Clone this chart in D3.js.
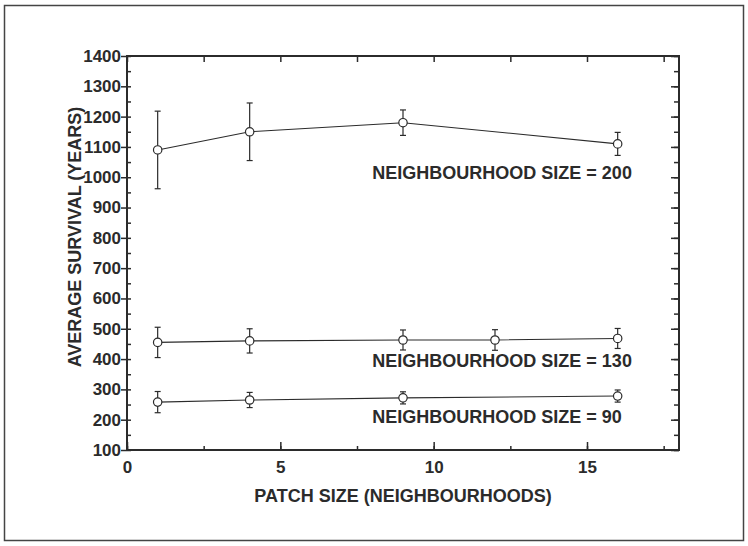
<!DOCTYPE html>
<html>
<head>
<meta charset="utf-8">
<script src="https://cdn.jsdelivr.net/npm/d3@7"></script>
<style>
  body { margin: 0; background: #fff; }
  svg text { font-family: "Liberation Sans", Arial, sans-serif; font-weight: bold; fill: #2b2b2b; }
</style>
</head>
<body>
<div class="chart"></div>
<script>
// data
const patch200 = [1, 4, 9, 16];
const survival200 = [1090, 1150, 1180, 1110];
const err200 = [128, 95, 42, 38];

const patch130 = [1, 4, 9, 12, 16];
const survival130 = [455, 460, 463, 463, 468];
const err130 = [50, 40, 33, 34, 33];

const patch90 = [1, 4, 9, 16];
const survival90 = [258, 265, 272, 278];
const err90 = [35, 25, 20, 20];

const seriesLabels = ['NEIGHBOURHOOD SIZE = 200', 'NEIGHBOURHOOD SIZE = 130', 'NEIGHBOURHOOD SIZE = 90'];
const xTicks = [0, 5, 10, 15];
const yTicks = d3.range(100, 1401, 100);

const ink = '#2b2b2b';
const W = 748, H = 546;
const plot = {left: 127, right: 679, top: 56, bottom: 450};

const svg = d3.select('.chart')
    .append('svg')
    .attr('width', W)
    .attr('height', H);

// outer frame of the scanned page
svg.append('rect')
    .attr('x', 4.5).attr('y', 5.5)
    .attr('width', 739).attr('height', 535)
    .attr('fill', 'none')
    .attr('stroke', '#444')
    .attr('stroke-width', 1.5);

const x = d3.scaleLinear().domain([0, 18]).range([plot.left, plot.right]);
const y = d3.scaleLinear().domain([100, 1400]).range([plot.bottom, plot.top]);

const xMinor = d3.range(0, 18.1, 2.5);
const yMinor = d3.range(100, 1401, 50);

function styleAxis(g) {
    g.select('.domain').remove();
    g.selectAll('line').attr('stroke', ink).attr('stroke-width', 1.5);
    g.selectAll('text').attr('font-size', 17).attr('fill', ink);
}

// left axis: labelled ticks outward, minor ticks inward
svg.append('g')
    .attr('transform', `translate(${plot.left},0)`)
    .call(d3.axisLeft(y).tickValues(yTicks).tickSize(6).tickPadding(0).tickFormat(d3.format('d')))
    .call(styleAxis);
svg.append('g')
    .attr('transform', `translate(${plot.left},0)`)
    .call(d3.axisLeft(y).tickValues(yMinor).tickSize(-4).tickFormat(''))
    .call(styleAxis);

// right axis
svg.append('g')
    .attr('transform', `translate(${plot.right},0)`)
    .call(d3.axisRight(y).tickValues(yTicks).tickSize(-8).tickFormat(''))
    .call(styleAxis);
svg.append('g')
    .attr('transform', `translate(${plot.right},0)`)
    .call(d3.axisRight(y).tickValues(yMinor).tickSize(-5).tickFormat(''))
    .call(styleAxis);

// bottom axis
svg.append('g')
    .attr('transform', `translate(0,${plot.bottom})`)
    .call(d3.axisBottom(x).tickValues(xTicks).tickSize(-8).tickPadding(11).tickFormat(d3.format('d')))
    .call(styleAxis);
svg.append('g')
    .attr('transform', `translate(0,${plot.bottom})`)
    .call(d3.axisBottom(x).tickValues(xMinor).tickSize(-4).tickFormat(''))
    .call(styleAxis);

// top axis
svg.append('g')
    .attr('transform', `translate(0,${plot.top})`)
    .call(d3.axisTop(x).tickValues(xMinor).tickSize(-6).tickFormat(''))
    .call(styleAxis);

// plot frame
svg.append('rect')
    .attr('x', plot.left).attr('y', plot.top)
    .attr('width', plot.right - plot.left)
    .attr('height', plot.bottom - plot.top)
    .attr('fill', 'none')
    .attr('stroke', ink)
    .attr('stroke-width', 2);

const series = [
    {xs: patch200, ys: survival200, es: err200, label: seriesLabels[0], lx: 8, ly: 995},
    {xs: patch130, ys: survival130, es: err130, label: seriesLabels[1], lx: 8, ly: 374},
    {xs: patch90, ys: survival90, es: err90, label: seriesLabels[2], lx: 8, ly: 189}
];

const line = d3.line()
    .x(d => x(d.x))
    .y(d => y(d.y));

series.forEach(s => {
    const pts = s.xs.map((v, i) => ({x: v, y: s.ys[i], e: s.es[i]}));
    const g = svg.append('g');

    g.append('path')
        .datum(pts)
        .attr('d', line)
        .attr('fill', 'none')
        .attr('stroke', ink)
        .attr('stroke-width', 1.1);

    const bars = g.selectAll('.err')
        .data(pts)
        .enter()
        .append('g')
        .attr('class', 'err');

    bars.append('line')
        .attr('x1', d => x(d.x)).attr('x2', d => x(d.x))
        .attr('y1', d => y(d.y + d.e)).attr('y2', d => y(d.y - d.e));
    bars.append('line')
        .attr('x1', d => x(d.x) - 3).attr('x2', d => x(d.x) + 3)
        .attr('y1', d => y(d.y + d.e)).attr('y2', d => y(d.y + d.e));
    bars.append('line')
        .attr('x1', d => x(d.x) - 3).attr('x2', d => x(d.x) + 3)
        .attr('y1', d => y(d.y - d.e)).attr('y2', d => y(d.y - d.e));
    bars.selectAll('line')
        .attr('stroke', ink)
        .attr('stroke-width', 1.2);

    g.selectAll('circle')
        .data(pts)
        .enter()
        .append('circle')
        .attr('cx', d => x(d.x))
        .attr('cy', d => y(d.y))
        .attr('r', 4.2)
        .attr('fill', '#fff')
        .attr('stroke', ink)
        .attr('stroke-width', 1.2);

    svg.append('text')
        .attr('x', x(s.lx))
        .attr('y', y(s.ly))
        .attr('font-size', 18)
        .text(s.label);
});

// axis titles
svg.append('text')
    .attr('x', (plot.left + plot.right) / 2)
    .attr('y', 502)
    .attr('text-anchor', 'middle')
    .attr('font-size', 18)
    .text('PATCH SIZE (NEIGHBOURHOODS)');

svg.append('text')
    .attr('transform', 'translate(81,237) rotate(-90)')
    .attr('text-anchor', 'middle')
    .attr('font-size', 18)
    .text('AVERAGE SURVIVAL (YEARS)');
</script>
</body>
</html>
